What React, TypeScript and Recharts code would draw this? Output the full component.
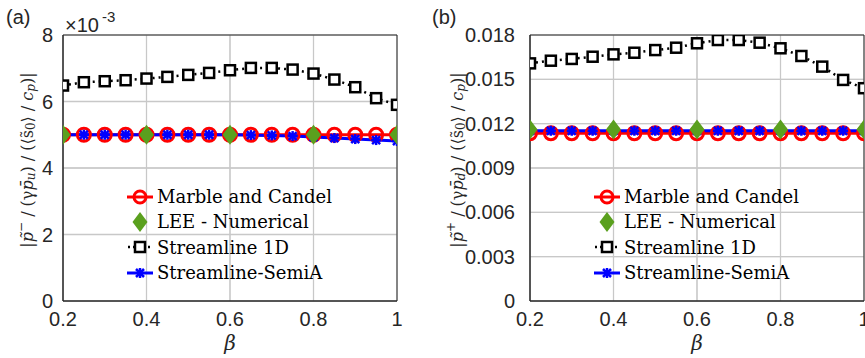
import React from "react";
import {
	LineChart,
	Line,
	XAxis,
	YAxis,
	CartesianGrid,
	ReferenceArea,
	Legend,
	Label,
} from "recharts";

const beta = [0.2, 0.25, 0.3, 0.35, 0.4, 0.45, 0.5, 0.55, 0.6, 0.65, 0.7, 0.75, 0.8, 0.85, 0.9, 0.95, 1];

// panel (a), values in units of 1e-3
const marbleA = [5, 5, 5, 5, 5, 5, 5, 5, 5, 5, 5, 5, 5, 5, 5, 5, 5];
const leeA = [5, null, null, null, 5, null, null, null, 5, null, null, null, 5, null, null, null, 5];
const stream1dA = [6.48, 6.58, 6.61, 6.64, 6.69, 6.74, 6.8, 6.86, 6.94, 7.01, 7.01, 6.96, 6.84, 6.66, 6.43, 6.1, 5.9];
const semiA = [5, 5, 5, 5, 5, 5, 5, 5, 5, 4.99, 4.98, 4.96, 4.93, 4.9, 4.87, 4.84, 4.81];

// panel (b)
const marbleB = [0.01135, 0.01135, 0.01135, 0.01135, 0.01135, 0.01135, 0.01135, 0.01135, 0.01135, 0.01135, 0.01135, 0.01135, 0.01135, 0.01135, 0.01135, 0.01135, 0.01135];
const leeB = [0.0116, null, null, null, 0.0116, null, null, null, 0.0116, null, null, null, 0.0116, null, null, null, 0.0116];
const stream1dB = [0.01608, 0.01626, 0.01638, 0.01653, 0.01669, 0.0168, 0.01698, 0.01714, 0.01744, 0.01766, 0.01766, 0.01748, 0.0171, 0.01658, 0.01586, 0.01496, 0.0144];
const semiB = [0.01152, 0.01152, 0.01152, 0.01152, 0.01152, 0.01152, 0.01152, 0.01152, 0.01152, 0.01152, 0.01152, 0.01152, 0.01152, 0.01152, 0.01152, 0.01152, 0.01152];

const xTicks = [0.2, 0.4, 0.6, 0.8, 1];
const yTicksA = [0, 2, 4, 6, 8];
const yTicksB = [0, 0.003, 0.006, 0.009, 0.012, 0.015, 0.018];

const legendNames = ["Marble and Candel", "LEE - Numerical", "Streamline 1D", "Streamline-SemiA"];

const RED = "#ff0000";
const GREEN = "#5aa01e";
const BLUE = "#0000ff";
const AXIS = "#262626";
const GRID = "#c8c8c8";
const tickStyle = { fill: AXIS, fontSize: 20, fontFamily: "Liberation Sans, Arial, sans-serif" };

const buildRows = (m: any[], l: any[], s: any[], b: any[]) =>
	beta.map((x, i) => ({ beta: x, marble: m[i], lee: l[i], s1d: s[i], semi: b[i] }));

const dataA = buildRows(marbleA, leeA, stream1dA, semiA);
const dataB = buildRows(marbleB, leeB, stream1dB, semiB);

const bad = (p: any) => p.value == null || p.cy == null || isNaN(p.cy);

const CircleDot = (p: any) => {
	if (bad(p)) return <g key={`c${p.index}`} />;
	return <circle key={`c${p.index}`} cx={p.cx} cy={p.cy} r={6.5} fill="none" stroke={RED} strokeWidth={3} />;
};
const DiamondDot = (p: any) => {
	if (bad(p)) return <g key={`d${p.index}`} />;
	const { cx, cy } = p;
	return (
		<polygon
			key={`d${p.index}`}
			points={`${cx},${cy - 10} ${cx + 7.5},${cy} ${cx},${cy + 10} ${cx - 7.5},${cy}`}
			fill={GREEN}
		/>
	);
};
const SquareDot = (p: any) => {
	if (bad(p)) return <g key={`s${p.index}`} />;
	return <rect key={`s${p.index}`} x={p.cx - 5} y={p.cy - 5} width={10} height={10} fill="#fff" stroke="#000" strokeWidth={2.5} />;
};
const StarDot = (p: any) => {
	if (bad(p)) return <g key={`x${p.index}`} />;
	const { cx, cy } = p;
	return (
		<g key={`x${p.index}`} stroke={BLUE} strokeWidth={2.5}>
			<line x1={cx - 5} y1={cy} x2={cx + 5} y2={cy} />
			<line x1={cx} y1={cy - 5} x2={cx} y2={cy + 5} />
			<line x1={cx - 4} y1={cy - 4} x2={cx + 4} y2={cy + 4} />
			<line x1={cx - 4} y1={cy + 4} x2={cx + 4} y2={cy - 4} />
		</g>
	);
};

const LegendBox = () => (
	<div style={{ fontFamily: "DejaVu Serif, serif", fontSize: 18, color: "#000" }}>
		{legendNames.map((name, i) => (
			<div key={name} style={{ display: "flex", alignItems: "center", height: 25.3 }}>
				<svg width={30} height={24}>
					{i === 0 && (
						<g>
							<line x1={2} y1={12} x2={28} y2={12} stroke={RED} strokeWidth={3} />
							<circle cx={15} cy={12} r={6} fill="none" stroke={RED} strokeWidth={3} />
						</g>
					)}
					{i === 1 && <polygon points="15,2 22.5,12 15,22 7.5,12" fill={GREEN} />}
					{i === 2 && (
						<g>
							<line x1={3} y1={12} x2={27} y2={12} stroke="#000" strokeWidth={2.5} strokeDasharray="2 3" />
							<rect x={10} y={7} width={10} height={10} fill="#fff" stroke="#000" strokeWidth={2.5} />
						</g>
					)}
					{i === 3 && (
						<g stroke={BLUE} strokeWidth={2.5}>
							<line x1={2} y1={12} x2={28} y2={12} strokeWidth={3} />
							<line x1={15} y1={7} x2={15} y2={17} />
							<line x1={11} y1={8} x2={19} y2={16} />
							<line x1={11} y1={16} x2={19} y2={8} />
						</g>
					)}
				</svg>
				<span style={{ marginLeft: 2, whiteSpace: "nowrap" }}>{name}</span>
			</div>
		))}
	</div>
);

const YLabelText = ({ x, y, sign, sub }: { x: number; y: number; sign: string; sub: string }) => (
	<text
		transform={`rotate(-90 ${x} ${y})`}
		x={x}
		y={y}
		textAnchor="middle"
		dominantBaseline="central"
		fontFamily="DejaVu Serif, serif"
		fontSize={16}
		fill={AXIS}
	>
		<tspan>|</tspan>
		<tspan fontStyle="italic">{"p\u0303"}</tspan>
		<tspan dy={-6} fontSize={12}>{sign}</tspan>
		<tspan dy={6}> / (γ</tspan>
		<tspan fontStyle="italic">{"p\u0304"}</tspan>
		<tspan dy={4} fontSize={12} fontStyle="italic">{sub}</tspan>
		<tspan dy={-4}>) / (⟨</tspan>
		<tspan>{"s\u0303"}</tspan>
		<tspan dy={4} fontSize={12}>0</tspan>
		<tspan dy={-4}>⟩ / </tspan>
		<tspan fontStyle="italic">c</tspan>
		<tspan dy={4} fontSize={12} fontStyle="italic">p</tspan>
		<tspan dy={-4}>)|</tspan>
	</text>
);

const BetaLabel = (props: any) => {
	const vb = props.viewBox || {};
	return (
		<text
			x={vb.x + vb.width / 2}
			y={vb.y + 49}
			textAnchor="middle"
			fontFamily="DejaVu Serif, serif"
			fontStyle="italic"
			fontSize={20}
			fill={AXIS}
		>
			β
		</text>
	);
};

type PanelProps = {
	data: any[];
	yDomain: number[];
	yTicks: number[];
	yFmt: (v: number) => string;
	yAxisWidth: number;
	yTickMargin: number;
	width: number;
	right: number;
	legendLeft: number;
};

const Panel = ({ data, yDomain, yTicks, yFmt, yAxisWidth, yTickMargin, width, right, legendLeft }: PanelProps) => {
	// thin bands (a bit over one pixel) used as grid lines
	const dx = 0.0015;
	const dy = (yDomain[1] - yDomain[0]) / 420;
	return (
		<LineChart width={width} height={358} data={data} margin={{ top: 35, right, bottom: 0, left: 0 }}>
			<CartesianGrid stroke={GRID} strokeWidth={1} />
			<XAxis
				dataKey="beta"
				type="number"
				domain={[0.2, 1]}
				ticks={xTicks}
				interval={0}
				tick={tickStyle}
				tickLine={false}
				tickMargin={5}
				axisLine={{ stroke: AXIS }}
				height={57}
				allowDataOverflow
			>
				<Label content={BetaLabel} />
			</XAxis>
			<YAxis
				type="number"
				domain={yDomain}
				ticks={yTicks}
				interval={0}
				tick={tickStyle}
				tickFormatter={yFmt}
				tickLine={false}
				tickMargin={yTickMargin}
				axisLine={{ stroke: AXIS }}
				width={yAxisWidth}
				allowDataOverflow
			/>
			{xTicks.slice(1, -1).map((t) => (
				<ReferenceArea key={`gx${t}`} x1={t - dx} x2={t + dx} y1={yDomain[0]} y2={yDomain[1]} fill={GRID} fillOpacity={1} strokeWidth={0} ifOverflow="visible" />
			))}
			{yTicks.slice(1, -1).map((t) => (
				<ReferenceArea key={`gy${t}`} x1={0.2} x2={1} y1={t - dy} y2={t + dy} fill={GRID} fillOpacity={1} strokeWidth={0} ifOverflow="visible" />
			))}
			<ReferenceArea x1={0.2} x2={1} y1={yDomain[0]} y2={yDomain[1]} fill="none" stroke={AXIS} strokeWidth={1} ifOverflow="visible" />
			<Line dataKey="marble" stroke={RED} strokeWidth={3} dot={CircleDot} isAnimationActive={false} />
			<Line dataKey="s1d" stroke="#000" strokeWidth={2.5} strokeDasharray="2 4" dot={SquareDot} isAnimationActive={false} />
			<Line dataKey="semi" stroke={BLUE} strokeWidth={3} dot={StarDot} isAnimationActive={false} />
			<Line dataKey="lee" stroke="none" connectNulls={false} dot={DiamondDot} isAnimationActive={false} />
			<Legend
				layout="vertical"
				align="center"
				verticalAlign="middle"
				content={LegendBox}
				wrapperStyle={{ position: "absolute", left: legendLeft, top: 184, width: "auto" }}
			/>
		</LineChart>
	);
};

export default function App() {
	return (
		<div style={{ position: "absolute", left: 0, top: 0, width: 865, height: 358, background: "#fff", overflow: "hidden" }}>
			<div style={{ position: "absolute", left: 0, top: 0 }}>
				<Panel
					data={dataA}
					yDomain={[0, 8]}
					yTicks={yTicksA}
					yFmt={(v) => String(v)}
					yAxisWidth={63}
					yTickMargin={4}
					width={430}
					right={33}
					legendLeft={125}
				/>
			</div>
			<div style={{ position: "absolute", left: 435, top: 0 }}>
				<Panel
					data={dataB}
					yDomain={[0, 0.018]}
					yTicks={yTicksB}
					yFmt={(v) => (v === 0 ? "0" : v.toFixed(3))}
					yAxisWidth={95}
					yTickMargin={9}
					width={430}
					right={1}
					legendLeft={157}
				/>
			</div>
			<svg width={865} height={358} style={{ position: "absolute", left: 0, top: 0, pointerEvents: "none" }}>
				<g fontFamily="Liberation Sans, Arial, sans-serif" fill={AXIS}>
					<text x={6} y={24} fontSize={20}>(a)</text>
					<text x={432} y={24} fontSize={20}>(b)</text>
					<text x={65} y={32} fontSize={20}>×10</text>
					<text x={102} y={22} fontSize={15}>-3</text>
				</g>
				<YLabelText x={27} y={160} sign="−" sub="u" />
				<YLabelText x={457} y={160} sign="+" sub="d" />
			</svg>
		</div>
	);
}
